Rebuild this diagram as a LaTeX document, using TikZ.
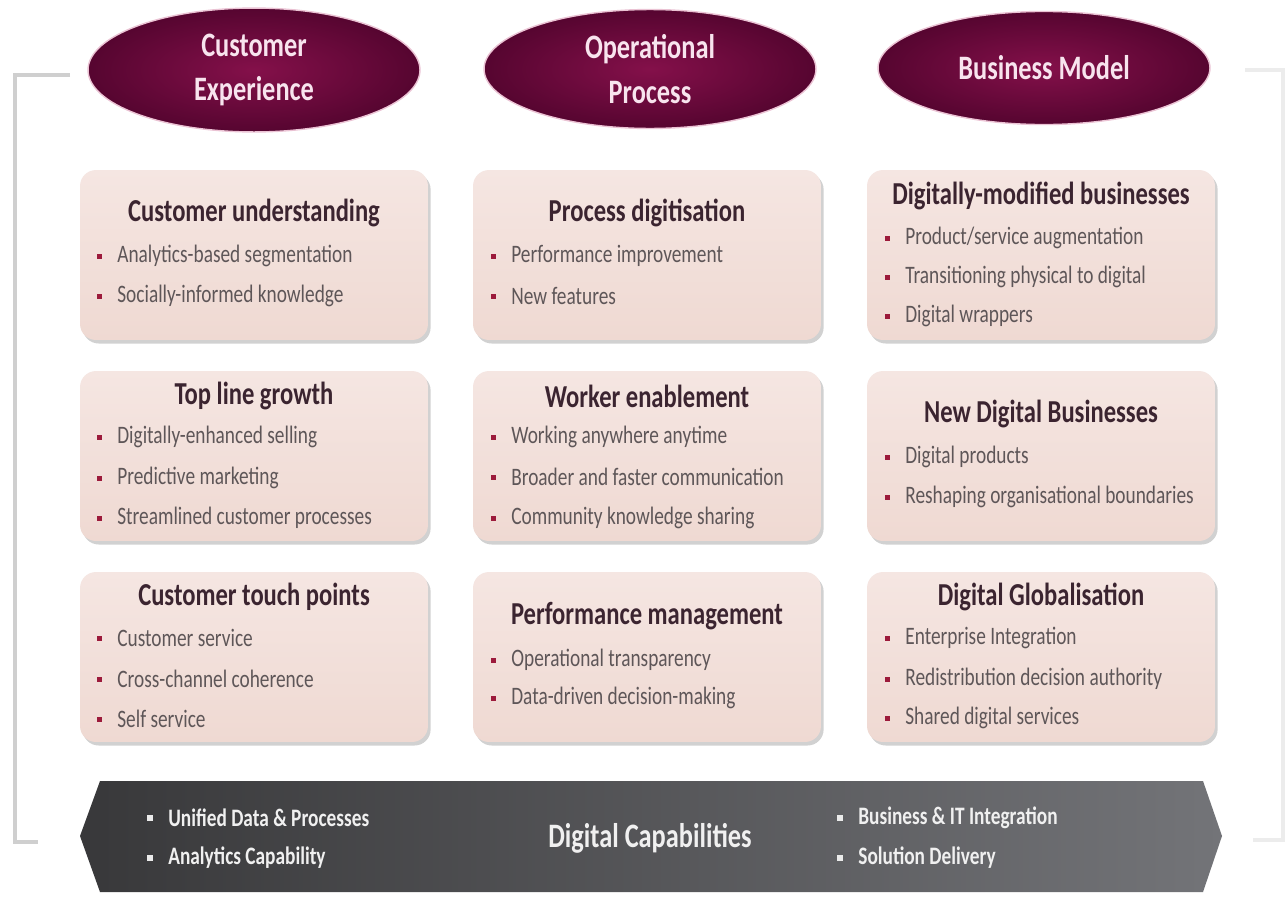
\documentclass[tikz,border=0pt]{standalone}
\usepackage{fontspec}
\setmainfont{Carlito}
\usetikzlibrary{shapes.geometric,shadows}
\definecolor{headin}{HTML}{84104A}
\definecolor{headout}{HTML}{560530}
\definecolor{headglow}{HTML}{EBC3D4}
\definecolor{headtxt}{HTML}{F8E4EE}
\definecolor{cardtop}{HTML}{F5E6E2}
\definecolor{cardbot}{HTML}{EFD9D2}
\definecolor{titletxt}{HTML}{3B2430}
\definecolor{bodytxt}{HTML}{5E5658}
\definecolor{bulred}{HTML}{9C1A3B}
\definecolor{barl}{HTML}{38383A}
\definecolor{barr}{HTML}{737478}
\definecolor{brk}{HTML}{CFCFCF}

\begin{document}
\begin{tikzpicture}[x=0.02cm,y=-0.02cm,
  head/.style={ellipse, minimum width=6.64cm, minimum height=1.74cm, inner color=headin, outer color=headout, draw=headglow, line width=0.8pt, text=headtxt, font=\bfseries\fontsize{15}{19.5}\selectfont, align=center, yscale=1.3},
  card/.style={rounded corners=0.32cm, minimum width=6.96cm, minimum height=3.4cm, top color=cardtop, bottom color=cardbot, drop shadow={shadow xshift=1.5pt, shadow yshift=-2pt, opacity=0.4, fill=black!45}},
  title/.style={font=\bfseries\fontsize{14}{16}\selectfont, text=titletxt, inner sep=0pt, yscale=1.3},
  bul/.style={rectangle, fill=bulred, minimum size=0.1cm, inner sep=0pt},
  txt/.style={anchor=west, font=\fontsize{11}{13}\selectfont, text=bodytxt, inner sep=0pt, yscale=1.3, label={[bul, label distance=0.3cm]left:{}}},
  wbul/.style={rectangle, fill=white!92!black, minimum size=0.12cm, inner sep=0pt},
  btxt/.style={anchor=west, font=\bfseries\fontsize{11}{13}\selectfont, text=white!94!black, inner sep=0pt, yscale=1.3, label={[wbul, label distance=0.3cm]left:{}}},
  brace/.style={line width=2pt, brk}]
        % 列位置
        \newcommand{\colA}{254}
        \newcommand{\colB}{647}
        \newcommand{\colC}{1041}
        \newcommand{\txA}{117}
        \newcommand{\txB}{511}
        \newcommand{\txC}{905}

        \fill[white] (0,0) rectangle (1288,896);
        \useasboundingbox (0,0) rectangle (1288,896);

        % 左右括线
        \draw[brace] (70,75) -- (15,75) -- (15,842) -- (38,842);
        \draw[brace, brk!40] (1245,70) -- (1283,70) -- (1283,840) -- (1253,840);

        % 三个椭圆标题
        \node[head] (cx) at (254,70) {Customer\\Experience};
        \node[head] (op) at (650,69) {Operational\\Process};
        \node[head] (bm) at (1044,68) {Business Model};

        % 第一行
        \node[card] (cu) at (\colA,255) {};
        \node[card] (pd) at (\colB,255) {};
        \node[card] (dm) at (\colC,255) {};
        \node[title] (cu-t) at (\colA,213) {Customer understanding};
        \node[txt] (cu-1) at (\txA,256) {Analytics-based segmentation};
        \node[txt] (cu-2) at (\txA,296) {Socially-informed knowledge};
        \node[title] (pd-t) at (\colB,213) {Process digitisation};
        \node[txt] (pd-1) at (\txB,256) {Performance improvement};
        \node[txt] (pd-2) at (\txB,296) {New features};
        \node[title] (dm-t) at (\colC,196) {Digitally-modified businesses};
        \node[txt] (dm-1) at (\txC,238) {Product/service augmentation};
        \node[txt] (dm-2) at (\txC,277) {Transitioning physical to digital};
        \node[txt] (dm-3) at (\txC,316) {Digital wrappers};

        % 第二行
        \node[card] (tg) at (\colA,456) {};
        \node[card] (we) at (\colB,456) {};
        \node[card] (nd) at (\colC,456) {};
        \node[title] (tg-t) at (\colA,396) {Top line growth};
        \node[txt] (tg-1) at (\txA,437) {Digitally-enhanced selling};
        \node[txt] (tg-2) at (\txA,478) {Predictive marketing};
        \node[txt] (tg-3) at (\txA,518) {Streamlined customer processes};
        \node[title] (we-t) at (\colB,396) {Worker enablement};
        \node[txt] (we-1) at (\txB,437) {Working anywhere anytime};
        \node[txt] (we-2) at (\txB,477) {Broader and faster communication};
        \node[txt] (we-3) at (\txB,518) {Community knowledge sharing};
        \node[title] (nd-t) at (\colC,414) {New Digital Businesses};
        \node[txt] (nd-1) at (\txC,457) {Digital products};
        \node[txt] (nd-2) at (\txC,497) {Reshaping organisational boundaries};

        % 第三行
        \node[card] (tp) at (\colA,657) {};
        \node[card] (pm) at (\colB,657) {};
        \node[card] (dg) at (\colC,657) {};
        \node[title] (tp-t) at (\colA,597) {Customer touch points};
        \node[txt] (tp-1) at (\txA,638) {Customer service};
        \node[txt] (tp-2) at (\txA,679) {Cross-channel coherence};
        \node[txt] (tp-3) at (\txA,719) {Self service};
        \node[title] (pm-t) at (\colB,616) {Performance management};
        \node[txt] (pm-1) at (\txB,660) {Operational transparency};
        \node[txt] (pm-2) at (\txB,698) {Data-driven decision-making};
        \node[title] (dg-t) at (\colC,597) {Digital Globalisation};
        \node[txt] (dg-1) at (\txC,638) {Enterprise Integration};
        \node[txt] (dg-2) at (\txC,679) {Redistribution decision authority};
        \node[txt] (dg-3) at (\txC,718) {Shared digital services};

        % 底部箭头条
        \shade[left color=barl, right color=barr] (100,781) -- (1203,781) -- (1222,836) -- (1203,892) -- (100,892) -- (80,836) -- cycle;
        \node[font=\bfseries\fontsize{15}{18}\selectfont, text=white!94!black, yscale=1.3] (dc) at (650,838) {Digital Capabilities};
        \node[btxt] (dc-1) at (168,818) {Unified Data \& Processes};
        \node[btxt] (dc-2) at (168,858) {Analytics Capability};
        \node[btxt] (dc-3) at (858,818) {Business \& IT Integration};
        \node[btxt] (dc-4) at (858,858) {Solution Delivery};
    \end{tikzpicture}
\end{document}
